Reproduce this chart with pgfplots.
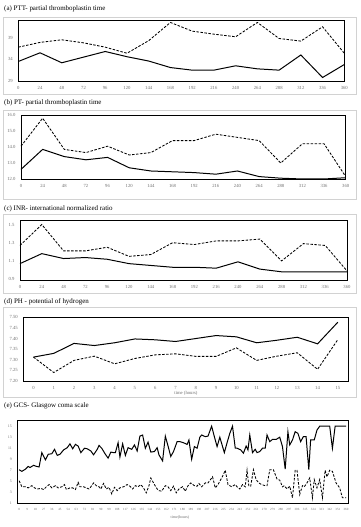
\documentclass[border=0pt]{standalone}
\usepackage{pgfplots}
\pgfplotsset{compat=1.18}
\usepackage{fontspec}
\setmainfont{Liberation Serif}
\definecolor{tickgray}{RGB}{110,110,110}
\definecolor{framegray}{RGB}{210,210,210}
\pgfplotsset{
  panel/.style={
    scale only axis,
    axis line style={black, line width=0.9pt},
    tick style={draw=none},
    ticklabel style={font=\fontsize{4.7}{5}\selectfont, text=tickgray},
    /pgf/number format/assume math mode=true,
    clip=false,
    xticklabel style={yshift=-1.5bp},
    yticklabel style={xshift=-2bp},
  },
  solidline/.style={black, line width=1.0pt, mark=none},
  dashline/.style={black, line width=0.85pt, dash pattern=on 2.5bp off 1.5bp, mark=none},
}
\begin{document}
\begin{tikzpicture}[x=1bp,y=1bp]
\useasboundingbox (0,0) rectangle (360,527);
% frames
\draw[framegray, line width=0.5bp] (3,433) rectangle (356,510);
\draw[framegray, line width=0.5bp] (3,328) rectangle (356,417);
\draw[framegray, line width=0.5bp] (3,234) rectangle (356,313);
\draw[framegray, line width=0.5bp] (3,130) rectangle (356,220);
% titles
\node[anchor=west, inner sep=0pt, font=\fontsize{7}{8}\selectfont] at (4,518) {(a) PTT- partial thromboplastin time};
\node[anchor=west, inner sep=0pt, font=\fontsize{7}{8}\selectfont] at (4,424) {(b) PT- partial thromboplastin time};
\node[anchor=west, inner sep=0pt, font=\fontsize{7}{8}\selectfont] at (4,318) {(c) INR- international normalized ratio};
\node[anchor=west, inner sep=0pt, font=\fontsize{7}{8}\selectfont] at (4,225) {(d) PH - potential of hydrogen};
\node[anchor=west, inner sep=0pt, font=\fontsize{7}{8}\selectfont] at (4,121) {(e) GCS- Glasgow coma scale};

% (a)
\begin{axis}[panel, at={(18.3bp,446bp)}, anchor=south west, width=326bp, height=60.7bp,
  xmin=0, xmax=360, ymin=29, ymax=43,
  xtick={0,24,...,360}, ytick={29,34,39}]
\addplot[solidline] coordinates {(0,33.5)(24,35.5)(48,33.2)(72,34.5)(96,35.8)(120,34.6)(144,33.6)(168,32.1)(192,31.5)(216,31.5)(240,32.5)(264,31.8)(288,31.5)(312,35)(336,29.8)(360,32.8)};
\addplot[dashline] coordinates {(0,36.8)(24,37.9)(48,38.5)(72,37.8)(96,36.8)(120,35.4)(144,38.3)(168,42.5)(192,40.5)(216,39.8)(240,39.2)(264,42.5)(288,38.8)(312,38.2)(336,41.5)(360,35.4)};
\end{axis}

% (b)
\begin{axis}[panel, at={(21bp,348bp)}, anchor=south west, width=324.7bp, height=64bp,
  xmin=0, xmax=360, ymin=12, ymax=16,
  xtick={0,24,...,360}, ytick={12,13,14,15,16},
  yticklabel style={/pgf/number format/.cd, fixed, fixed zerofill, precision=1}]
\addplot[solidline] coordinates {(0,12.6)(24,13.85)(48,13.4)(72,13.2)(96,13.35)(120,12.7)(144,12.5)(168,12.45)(192,12.4)(216,12.3)(240,12.5)(264,12.15)(288,12.05)(312,12.0)(336,12.0)(360,12.08)};
\addplot[dashline] coordinates {(0,14.05)(24,15.8)(48,13.85)(72,13.65)(96,14.05)(120,13.5)(144,13.65)(168,14.4)(192,14.4)(216,14.8)(240,14.6)(264,14.4)(288,13.0)(312,14.2)(336,14.2)(360,12.15)};
\end{axis}

% (c)
\begin{axis}[panel, at={(20bp,247bp)}, anchor=south west, width=327bp, height=60bp,
  xmin=0, xmax=360, ymin=0.89, ymax=1.55,
  xtick={0,24,...,360}, ytick={0.9,1.1,1.3,1.5},
  yticklabel style={/pgf/number format/.cd, fixed, fixed zerofill, precision=1}]
\addplot[solidline] coordinates {(0,1.07)(24,1.18)(48,1.126)(72,1.137)(96,1.118)(120,1.07)(144,1.05)(168,1.03)(192,1.03)(216,1.02)(240,1.09)(264,1.01)(288,0.98)(312,0.98)(336,0.98)(360,0.98)};
\addplot[dashline] coordinates {(0,1.27)(24,1.5)(48,1.21)(72,1.21)(96,1.25)(120,1.15)(144,1.17)(168,1.3)(192,1.28)(216,1.32)(240,1.32)(264,1.34)(288,1.1)(312,1.29)(336,1.27)(360,0.99)};
\end{axis}

% (d)
\begin{axis}[panel, at={(23.3bp,146bp)}, anchor=south west, width=324.7bp, height=63.7bp,
  xmin=-0.5, xmax=15.5, ymin=7.2, ymax=7.5,
  xtick={0,1,...,15}, ytick={7.20,7.25,7.30,7.35,7.40,7.45,7.50},
  yticklabel style={/pgf/number format/.cd, fixed, fixed zerofill, precision=2}]
\addplot[solidline] coordinates {(0,7.3125)(1,7.33)(2,7.377)(3,7.367)(4,7.38)(5,7.398)(6,7.394)(7,7.386)(8,7.40)(9,7.414)(10,7.408)(11,7.38)(12,7.392)(13,7.406)(14,7.375)(15,7.477)};
\addplot[dashline] coordinates {(0,7.3125)(1,7.24)(2,7.297)(3,7.317)(4,7.281)(5,7.306)(6,7.323)(7,7.328)(8,7.316)(9,7.316)(10,7.356)(11,7.297)(12,7.317)(13,7.333)(14,7.255)(15,7.395)};
\end{axis}
\node[font=\fontsize{4.7}{5}\selectfont, text=tickgray] at (186,133.5) {time (hours)};

% (e)
\begin{axis}[panel, at={(17.3bp,23.7bp)}, anchor=south west, width=331bp, height=82.6bp,
  xmin=-2, xmax=362.5, ymin=1, ymax=16,
  xtick={0,9,...,360}, ytick={1,3,...,15},
  xticklabel style={font=\fontsize{3.2}{3.5}\selectfont, yshift=0bp},
  yticklabel style={font=\fontsize{3.8}{4}\selectfont}]
\addplot[solidline] coordinates {(0,7.1)(3,6.8)(7,7.2)(10,7.7)(12,7.5)(16,7.9)(19,7.7)(22,7.6)(25,10.2)(29,8.9)(32,9.9)(36,10)(39,10.8)(42,9.7)(45,9.9)(49,10.7)(53,11.1)(56,11.8)(59,10.9)(62,11.7)(65,11.4)(68,10.2)(72,11)(75,10.9)(79,10.5)(82,9.8)(86,10.8)(88,11.5)(91,11)(95,9.9)(98,9.2)(101,10.3)(104,10.2)(106,10.2)(109,12)(111,9.4)(114,11.8)(117,9.7)(120,11.1)(124,10.8)(127,11.6)(130,10.5)(133,13.2)(136,13.4)(139,11)(142,12.1)(145,10.3)(149,10.4)(152,11.1)(154,9.8)(158,8.7)(161,13.2)(164,11.4)(167,9.5)(170,10.4)(174,12.2)(177,12.2)(181,12)(185,11.7)(187,12.5)(190,9)(193,11.3)(196,11)(199,13)(201,13.4)(205,13.1)(208,13.2)(212,15)(215,13.1)(218,11.3)(221,13)(226,10.2)(229,12)(232,13.7)(235,15)(238,11)(240,11)(244,10.7)(247,10.1)(250,11.4)(252,10.7)(254,13.4)(257,10.2)(260,10.8)(262,10.2)(265,10.4)(268,11)(271,11)(273,13.4)(276,12.2)(279,12.6)(283,12.6)(287,13)(290,11.3)(293,7.2)(296,14)(298,11.6)(301,12.5)(304,14)(307,13.7)(310,12.2)(313,13.1)(316,13.1)(319,7.1)(321,12.5)(325,12.5)(328,14.3)(331,15)(342,15)(345,11)(348,15)(360,15)};
\addplot[dashline] coordinates {(0,5.1)(3,4)(7,4)(10,3.8)(14,4.2)(17,3.8)(20,3.6)(24,3.7)(27,3.5)(30,4)(33,4.4)(36,3.8)(40,4.2)(43,3.8)(47,4)(50,4.4)(52,3.5)(56,3.8)(59,3.8)(62,3.5)(65,4.8)(67,4)(71,4)(74,3.8)(77,3.6)(79,4)(82,4.7)(85,4.2)(88,4)(90,3.6)(93,4.6)(96,3.6)(99,3.9)(102,2.7)(105,3.9)(108,3.3)(111,3.8)(115,4)(119,4.4)(122,4.1)(125,3.6)(128,4.2)(131,4)(134,4.4)(137,3.8)(140,2.9)(143,4.2)(145,5.6)(149,4.4)(152,3.6)(154,3.3)(157,3.2)(161,4.2)(164,4)(167,3.3)(170,4.1)(173,2.9)(176,3.6)(180,4)(183,3.2)(186,4.2)(189,4.7)(193,4.2)(196,4.1)(198,4.6)(201,4)(205,4.7)(208,4.7)(213,5.8)(216,3.8)(219,4.4)(221,5)(224,5.9)(227,7)(230,4.4)(234,4)(238,4.4)(240,4)(243,3.6)(246,4.4)(249,4)(251,7)(253,4.1)(255,4.1)(258,7.1)(261,5.3)(264,4.7)(267,4.4)(271,4.2)(273,4.2)(276,7.1)(280,7.1)(284,5.4)(287,5.2)(290,4)(292,4.2)(295,3.6)(298,4.1)(301,2)(304,7)(306,7)(309,2.6)(312,4.2)(314,4)(317,4.7)(320,5.6)(323,2)(325,5.3)(328,3.8)(331,5.3)(334,2)(337,7)(339,5.8)(342,7)(345,6.8)(349,4.7)(353,3.8)(356,2)(360,2)};
\end{axis}
\node[font=\fontsize{4}{4.5}\selectfont, text=tickgray] at (180,9) {time(hours)};
\end{tikzpicture}
\end{document}
